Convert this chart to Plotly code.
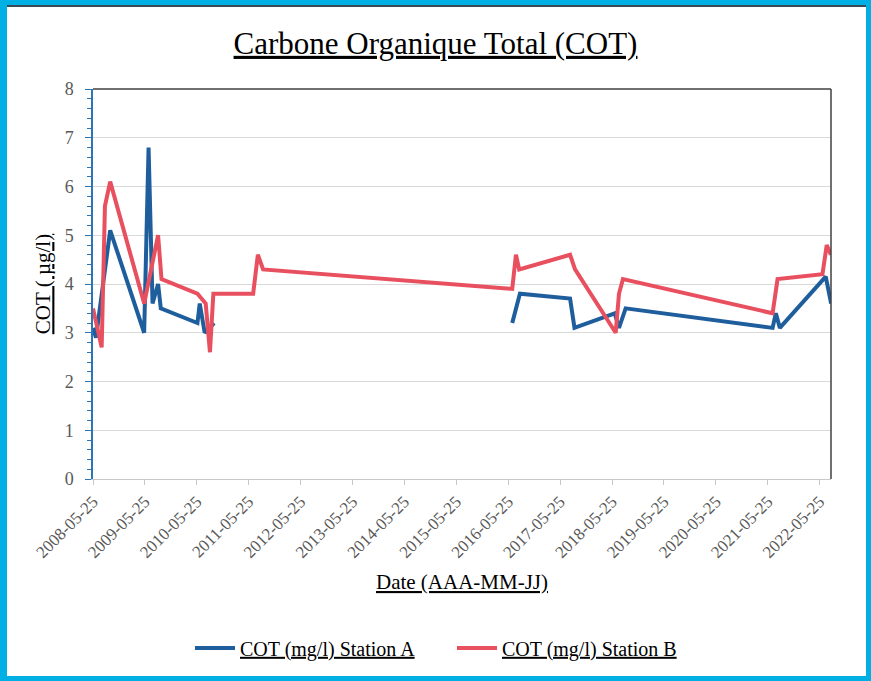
import plotly.graph_objects as go

# Station A (blue) - None marks the gap in measurements
dates_a = ["2008-05-25", "2008-06-15", "2008-09-23", "2009-05-20", "2009-06-20",
           "2009-07-18", "2009-08-26", "2009-09-14", "2010-05-30", "2010-06-15",
           "2010-07-20", "2010-09-24", "2013-06-01",
           "2016-06-22", "2016-08-15", "2017-08-03", "2017-09-03", "2018-06-13",
           "2018-07-13", "2018-08-29", "2021-06-28", "2021-07-21", "2021-08-18",
           "2022-07-07", "2022-08-14"]
values_a = [3.1, 2.9, 5.1, 3.0, 6.8,
            3.6, 4.0, 3.5, 3.2, 3.6,
            3.0, 3.2, None,
            3.2, 3.8, 3.7, 3.1, 3.4,
            3.1, 3.5, 3.1, 3.4, 3.1,
            4.15, 3.6]

# Station B (red)
dates_b = ["2008-05-25", "2008-07-25", "2008-08-17", "2008-09-23", "2009-05-20",
           "2009-08-26", "2009-09-19", "2010-05-30", "2010-07-27", "2010-08-26",
           "2010-09-19", "2011-06-26", "2011-07-29", "2011-09-04", "2016-06-22",
           "2016-07-18", "2016-08-10", "2017-08-03", "2017-09-07", "2018-06-20",
           "2018-07-13", "2018-08-10", "2021-06-28", "2021-08-02", "2022-06-14",
           "2022-07-14", "2022-08-12"]
values_b = [3.5, 2.7, 5.6, 6.1, 3.6,
            5.0, 4.1, 3.8, 3.6, 2.6,
            3.8, 3.8, 4.6, 4.3, 3.9,
            4.6, 4.3, 4.6, 4.3, 3.0,
            3.8, 4.1, 3.4, 4.1, 4.2,
            4.8, 4.6]

name_a = "COT (mg/l) Station A"
name_b = "COT (mg/l) Station B"
title_text = "Carbone Organique Total (COT)"
x_title = "Date (AAA-MM-JJ)"
y_title = "COT ( µg/l)"

SERIF = "Liberation Serif, Times New Roman, serif"
BLUE = "#1F5E9C"
RED = "#E9505F"
CYAN = "#00B0E5"

W, H = 871, 681
L, R, T, B = 93, 40, 89, 202
pw, ph = W - L - R, H - T - B

def px_x(p):
    return (p - L) / pw

def px_y(p):
    return (H - B - p) / ph

fig = go.Figure()
fig.add_trace(go.Scatter(x=dates_a, y=values_a, mode="lines", name=name_a,
                         line=dict(color=BLUE, width=4), connectgaps=False))
fig.add_trace(go.Scatter(x=dates_b, y=values_b, mode="lines", name=name_b,
                         line=dict(color=RED, width=4)))

fig.update_layout(
    width=W, height=H,
    margin=dict(l=L, r=R, t=T, b=B, autoexpand=False),
    paper_bgcolor=CYAN,
    plot_bgcolor="white",
    font=dict(family=SERIF, color="#595959"),
    title=dict(text=title_text, x=0.5, xref="container", xanchor="center",
               y=1 - 43 / H, yref="container", yanchor="middle",
               font=dict(family=SERIF, size=31, color="black", lineposition="under")),
    showlegend=True,
    legend=dict(orientation="h", x=px_x(190), xanchor="left", y=px_y(648),
                yanchor="middle", font=dict(family=SERIF, size=20, color="black",
                                             lineposition="under"),
                bgcolor="rgba(0,0,0,0)", itemwidth=40,
                entrywidth=207, entrywidthmode="pixels"),
    xaxis=dict(type="date", range=["2008-05-25", "2022-08-13"],
               tick0="2008-05-25", dtick="M12", tickformat="%Y-%m-%d",
               tickangle=-45, tickfont=dict(family=SERIF, size=17, color="#595959"),
               showgrid=False, showline=True, linecolor="#C8C8C8", linewidth=1,
               ticks="outside", ticklen=5, tickcolor="#C8C8C8", zeroline=False,
               title=dict(text=x_title, standoff=13,
                          font=dict(family=SERIF, size=21, color="black",
                                    lineposition="under"))),
    yaxis=dict(range=[0, 8], dtick=1, tick0=0,
               tickfont=dict(family=SERIF, size=18, color="#595959"),
               showgrid=True, gridcolor="#D9D9D9", gridwidth=1,
               showline=True, linecolor="#2E75B6", linewidth=1.5,
               ticks="outside", ticklen=6, tickcolor="#2E75B6", ticklabelstandoff=8,
               minor=dict(dtick=0.2, ticks="outside", ticklen=4, tickcolor="#2E75B6",
                          showgrid=False),
               zeroline=False,
               title=dict(text=y_title, standoff=8,
                          font=dict(family=SERIF, size=21, color="black",
                                    lineposition="under"))),
    shapes=[
        dict(type="rect", xref="paper", yref="paper", layer="below",
             x0=px_x(7), x1=px_x(866), y0=px_y(676), y1=px_y(5),
             fillcolor="white", line=dict(width=0)),
        dict(type="line", xref="paper", yref="paper", layer="below",
             x0=px_x(7), x1=px_x(866), y0=px_y(6), y1=px_y(6),
             line=dict(color="#3A4A55", width=2)),
        dict(type="line", xref="paper", yref="paper", layer="above",
             x0=0, x1=1, y0=1, y1=1, line=dict(color="#404040", width=1.5)),
        dict(type="line", xref="paper", yref="paper", layer="above",
             x0=1, x1=1, y0=0, y1=1, line=dict(color="#404040", width=1.5)),
    ],
)

fig.write_html("out.html", config={"displayModeBar": False},
               post_script="document.body.style.margin='0';document.body.style.padding='0';")
